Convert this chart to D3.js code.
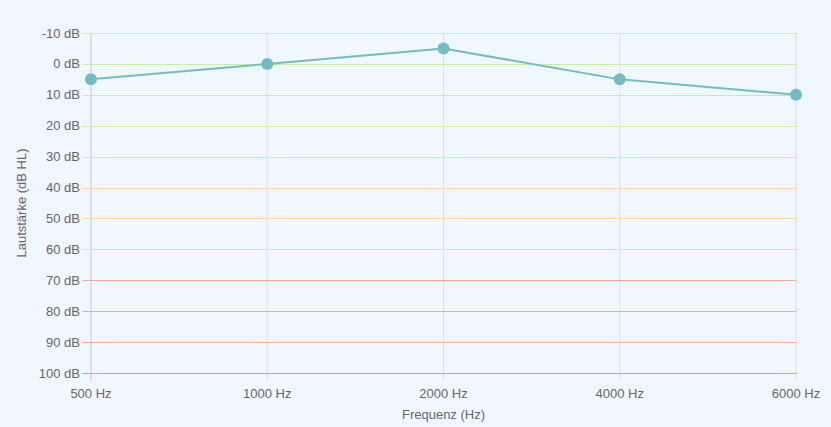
<!DOCTYPE html>
<html>
<head>
<meta charset="utf-8">
<title>Audiogramm</title>
<script src="https://d3js.org/d3.v7.min.js"></script>
<style>
  body { margin: 0; background: #f1f7fe; font-family: "Liberation Sans", Helvetica, Arial, sans-serif; }
  svg text { fill: #666; font-size: 13px; }
</style>
</head>
<body>
<div id="chart"></div>
<script>
var frequencies = ["500 Hz", "1000 Hz", "2000 Hz", "4000 Hz", "6000 Hz"];
var levels = [5, 0, -5, 5, 10];
var dbTicks = [-10, 0, 10, 20, 30, 40, 50, 60, 70, 80, 90, 100];
// zone colour of each horizontal grid line
var zoneColors = ["#c4f0a8", "#c4f0a8", "#c4f0a8", "#c4f0a8",
                  "#f5d99c", "#f5d99c", "#f5d99c", "#f5d99c",
                  "#f2a89b", "#f2a89b", "#f2a89b", "#e9958a"];

var w = 831, h = 427;
var m = {top: 33, right: 35, bottom: 54, left: 91};

var svg = d3.select("#chart").append("svg")
    .attr("width", w)
    .attr("height", h);

var x = d3.scalePoint()
    .domain(frequencies)
    .range([m.left, w - m.right]);

var y = d3.scaleLinear()
    .domain([-10, 100])
    .range([m.top, h - m.bottom]);

// vertical grid
svg.selectAll("line.vgrid")
    .data(frequencies).enter()
    .append("line")
    .attr("class", "vgrid")
    .attr("x1", function(d) { return x(d); })
    .attr("x2", function(d) { return x(d); })
    .attr("y1", m.top)
    .attr("y2", h - m.bottom + 8)
    .style("stroke", function(d, i) { return i == 0 ? "#c6c9d2" : "#dcdfe6"; })
    .style("stroke-width", 1);

// horizontal grid
svg.selectAll("line.hgrid")
    .data(dbTicks).enter()
    .append("line")
    .attr("class", "hgrid")
    .attr("x1", m.left - 8)
    .attr("x2", w - m.right)
    .attr("y1", function(d) { return Math.round(y(d)) + 0.5; })
    .attr("y2", function(d) { return Math.round(y(d)) + 0.5; })
    .style("stroke", function(d, i) { return zoneColors[i]; })
    .style("stroke-width", 1);

// y tick labels
svg.selectAll("text.ylab")
    .data(dbTicks).enter()
    .append("text")
    .attr("class", "ylab")
    .attr("x", m.left - 11)
    .attr("y", function(d) { return y(d); })
    .attr("dy", "0.35em")
    .attr("text-anchor", "end")
    .text(function(d) { return d + " dB"; });

// x tick labels
svg.selectAll("text.xlab")
    .data(frequencies).enter()
    .append("text")
    .attr("class", "xlab")
    .attr("x", function(d) { return x(d); })
    .attr("y", h - m.bottom + 20)
    .attr("dy", "0.35em")
    .attr("text-anchor", "middle")
    .text(function(d) { return d; });

// axis titles
svg.append("text")
    .attr("x", (m.left + w - m.right) / 2)
    .attr("y", h - 8)
    .attr("text-anchor", "middle")
    .text("Frequenz (Hz)");

svg.append("text")
    .attr("transform", "translate(26," + (m.top + h - m.bottom) / 2 + ") rotate(-90)")
    .attr("text-anchor", "middle")
    .text("Lautstärke (dB HL)");

// data line
var line = d3.line()
    .x(function(d, i) { return x(frequencies[i]); })
    .y(function(d) { return y(d); });

svg.append("path")
    .datum(levels)
    .attr("d", line)
    .style("fill", "none")
    .style("stroke", "#72bdc1")
    .style("stroke-width", 2);

svg.selectAll("circle.pt")
    .data(levels).enter()
    .append("circle")
    .attr("class", "pt")
    .attr("cx", function(d, i) { return x(frequencies[i]); })
    .attr("cy", function(d) { return y(d); })
    .attr("r", 6)
    .style("fill", "#72bdc1");
</script>
</body>
</html>
